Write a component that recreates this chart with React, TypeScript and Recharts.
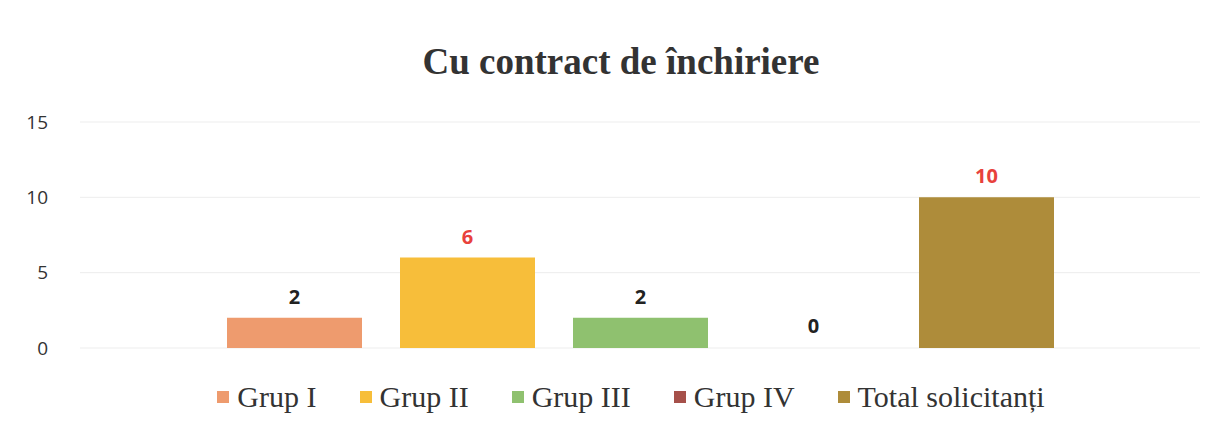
import React from "react";
import { BarChart, Bar, YAxis, XAxis, CartesianGrid, Legend, LabelList } from "recharts";

const categories = [""];
const seriesNames = ["Grup I", "Grup II", "Grup III", "Grup IV", "Total solicitanți"];
const seriesKeys = ["g1", "g2", "g3", "g4", "total"];
const grupI = [2];
const grupII = [6];
const grupIII = [2];
const grupIV = [0];
const totalSolicitanti = [10];
const yTicks = [0, 5, 10, 15];

const colors = ["#EE9B6E", "#F7BE3A", "#8FC16F", "#A6504A", "#AE8C3A"];
const labelColors = ["#222222", "#E8413C", "#222222", "#222222", "#E8413C"];

const data = categories.map((c, i) => ({
  name: c,
  g1: grupI[i],
  g2: grupII[i],
  g3: grupIII[i],
  g4: grupIV[i],
  total: totalSolicitanti[i],
}));

const LegendContent = () => (
  <div
    style={{
      display: "flex",
      justifyContent: "center",
      alignItems: "center",
      fontFamily: "'Liberation Serif', 'Times New Roman', serif",
      fontSize: 30,
      color: "#333",
      paddingLeft: 42,
      lineHeight: "34px",
    }}
  >
    {seriesNames.map((n, i) => (
      <div key={n} style={{ display: "flex", alignItems: "center", marginRight: i < seriesNames.length - 1 ? 43 : 0 }}>
        <span style={{ display: "inline-block", width: 12, height: 12, background: colors[i], marginRight: 8 }} />
        <span>{n}</span>
      </div>
    ))}
  </div>
);

export default function App() {
  return (
    <div style={{ position: "absolute", left: 0, top: 0, width: 1220, height: 437, background: "#fff" }}>
      <div
        style={{
          position: "absolute",
          top: 41,
          left: 0,
          width: 1242,
          textAlign: "center",
          fontFamily: "'Liberation Serif', 'Times New Roman', serif",
          fontWeight: "bold",
          fontSize: 37,
          lineHeight: "41px",
          color: "#333",
        }}
      >
        Cu contract de închiriere
      </div>
      <BarChart
        width={1220}
        height={437}
        data={data}
        margin={{ top: 122, right: 20, bottom: 55, left: 10 }}
        barSize={135}
        barGap={38}
      >
        <CartesianGrid vertical={false} stroke="#ededed" />
        <XAxis dataKey="name" hide />
        <YAxis
          width={70}
          domain={[0, 15]}
          ticks={yTicks}
          axisLine={false}
          tickLine={false}
          tickMargin={26}
          tick={{ fontSize: 19, fill: "#333", fontFamily: "'Open Sans', sans-serif" }}
        />
        <Legend content={<LegendContent />} wrapperStyle={{ left: 0, top: 380, width: 1220 }} />
        {seriesKeys.map((k, i) => (
          <Bar
            key={k}
            dataKey={k}
            name={seriesNames[i]}
            fill={colors[i]}
            fillOpacity={k === "g4" ? 0 : 1}
            minPointSize={k === "g4" ? 1 : 0}
            isAnimationActive={false}
          >
            <LabelList
              dataKey={k}
              position="top"
              offset={14}
              fill={labelColors[i]}
              style={{ fontSize: 20, fontWeight: "bold", fontFamily: "'Open Sans', sans-serif" }}
            />
          </Bar>
        ))}
      </BarChart>
    </div>
  );
}
